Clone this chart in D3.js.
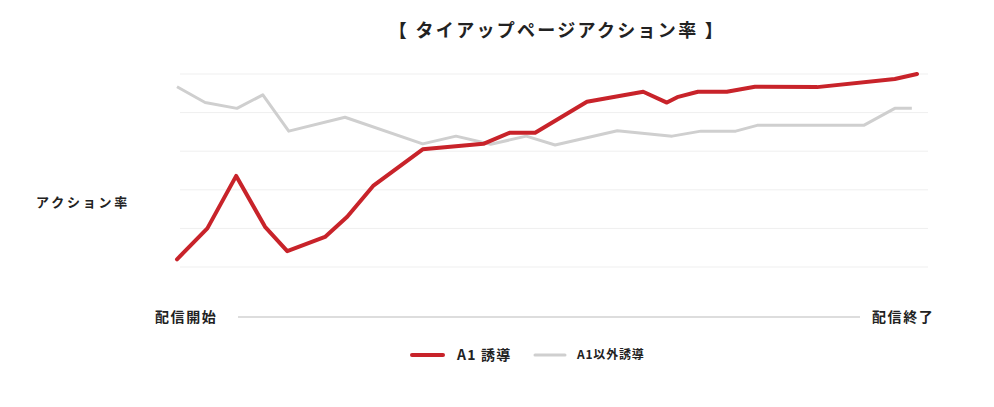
<!DOCTYPE html>
<meta charset="utf-8">
<style>
    body { margin: 0; background: #fff; }
    svg { display: block; }
    text { font-family: "Noto Sans CJK JP", "Noto Sans", sans-serif; font-weight: 700; fill: #222; }
</style>

<script src="https://d3js.org/d3.v7.min.js"></script>

<svg id="chart" width="994" height="407"></svg>

<script>

// Data (x = progress through the delivery period, 0-100; y = action rate, arbitrary units)

var titleText = '【 タイアップページアクション率 】';
var yLabel = 'アクション率';
var startLabel = '配信開始';
var endLabel = '配信終了';
var seriesNames = ['A1 誘導', 'A1以外誘導'];

var a1X = [0, 4.1, 8.0, 11.9, 14.9, 20.0, 23.0, 26.5, 33.2, 41.4, 45.0, 48.4, 55.4, 63.0, 66.2, 67.6, 70.4, 74.3, 78.1, 86.5, 97.0, 100];
var a1Y = [0.20, 1.00, 2.36, 1.04, 0.41, 0.78, 1.30, 2.10, 3.05, 3.19, 3.48, 3.48, 4.28, 4.54, 4.26, 4.40, 4.54, 4.54, 4.67, 4.66, 4.87, 5.00];

var otherX = [0, 3.8, 8.1, 11.6, 15.1, 22.7, 33.2, 37.7, 42.4, 47.2, 51.1, 59.5, 66.9, 70.8, 75.5, 78.4, 92.8, 97.0, 99.3];
var otherY = [4.67, 4.26, 4.11, 4.46, 3.52, 3.88, 3.19, 3.39, 3.18, 3.39, 3.16, 3.53, 3.39, 3.52, 3.52, 3.67, 3.67, 4.11, 4.11];

var gridValues = [0, 1, 2, 3, 4, 5];


// Setup

var svg = d3.select('svg#chart');

var red = '#c8232a';
var grey = '#cfcfcf';

var x = d3.scaleLinear().domain([0, 100]).range([177, 917]);
var y = d3.scaleLinear().domain([0, 5]).range([267, 74]);

var gridLeft = 180, gridRight = 928;


// Title and labels

svg.append('text')
    .attr('x', 557).attr('y', 37)
    .attr('text-anchor', 'middle')
    .attr('font-size', 18)
    .attr('letter-spacing', 2.3)
    .text(titleText);

svg.append('text')
    .attr('x', 36).attr('y', 207)
    .attr('font-size', 13)
    .attr('letter-spacing', 2.8)
    .text(yLabel);


// Gridlines

svg.append('g')
    .selectAll('line')
    .data(gridValues)
    .join('line')
    .attr('x1', gridLeft).attr('x2', gridRight)
    .attr('y1', function (d) { return y(d); })
    .attr('y2', function (d) { return y(d); })
    .attr('stroke', '#efefef')
    .attr('stroke-width', 1);


// Lines

var lineFn = d3.line()
    .x(function (d) { return x(d[0]); })
    .y(function (d) { return y(d[1]); });

svg.append('path')
    .datum(d3.zip(otherX, otherY))
    .attr('fill', 'none')
    .attr('stroke', grey)
    .attr('stroke-width', 3)
    .attr('stroke-linejoin', 'round')
    .attr('d', lineFn);

svg.append('path')
    .datum(d3.zip(a1X, a1Y))
    .attr('fill', 'none')
    .attr('stroke', red)
    .attr('stroke-width', 4)
    .attr('stroke-linejoin', 'round')
    .attr('stroke-linecap', 'round')
    .attr('d', lineFn);


// Time axis (start / end)

var axisY = 317;

svg.append('line')
    .attr('x1', 238).attr('x2', 860)
    .attr('y1', axisY).attr('y2', axisY)
    .attr('stroke', '#bbb')
    .attr('stroke-width', 1.2);

svg.append('text')
    .attr('x', 155).attr('y', axisY + 5)
    .attr('font-size', 14)
    .attr('letter-spacing', 1.6)
    .text(startLabel);

svg.append('text')
    .attr('x', 872).attr('y', axisY + 5)
    .attr('font-size', 14)
    .attr('letter-spacing', 1.6)
    .text(endLabel);


// Legend

var legend = svg.append('g');

legend.append('line')
    .attr('x1', 412).attr('x2', 443)
    .attr('y1', 355).attr('y2', 355)
    .attr('stroke', red).attr('stroke-width', 4).attr('stroke-linecap', 'round');

legend.append('text')
    .attr('x', 457).attr('y', 360)
    .attr('font-size', 14)
    .attr('letter-spacing', 1.2)
    .text(seriesNames[0]);

legend.append('line')
    .attr('x1', 535).attr('x2', 565)
    .attr('y1', 355).attr('y2', 355)
    .attr('stroke', grey).attr('stroke-width', 3).attr('stroke-linecap', 'round');

legend.append('text')
    .attr('x', 577).attr('y', 359)
    .attr('font-size', 12)
    .attr('letter-spacing', 0.8)
    .text(seriesNames[1]);

</script>
